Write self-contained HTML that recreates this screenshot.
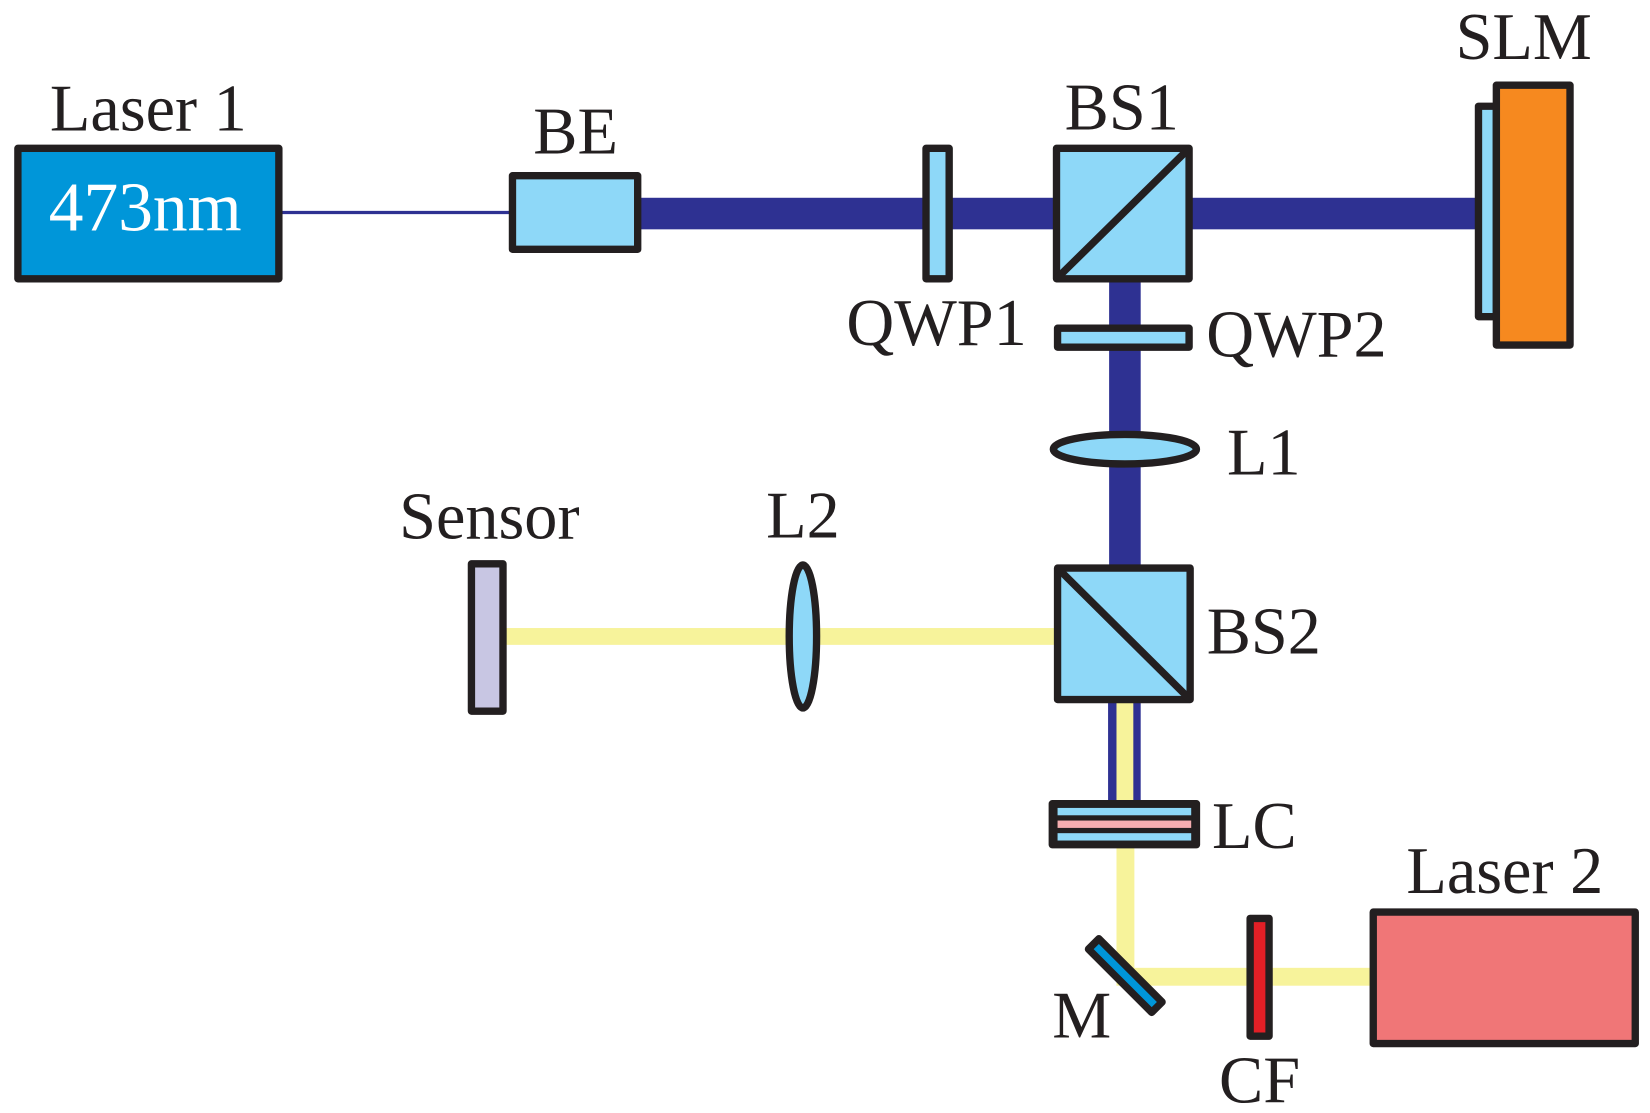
<!DOCTYPE html>
<html><head><style>html,body{margin:0;padding:0;background:#fff}svg{display:block}</style></head>
<body>
<svg width="1650" height="1113" viewBox="0 0 1568 1058" preserveAspectRatio="none" xmlns="http://www.w3.org/2000/svg">
<g font-family="Liberation Serif, serif" font-size="63" fill="#231f20" text-anchor="middle">
<line x1="265" y1="202" x2="487" y2="202" stroke="#2e3192" stroke-width="3"/>
<rect x="606" y="188" width="800" height="30" fill="#2e3192"/>
<rect x="1054" y="265" width="30" height="275" fill="#2e3192"/>
<rect x="1053" y="665" width="31" height="100" fill="#2e3192"/>
<rect x="1061" y="665" width="16" height="140" fill="#f7f39b"/>
<rect x="1061" y="803" width="17" height="133" fill="#f7f39b"/>
<rect x="1061" y="920" width="245" height="17" fill="#f7f39b"/>
<rect x="478" y="597" width="527" height="16" fill="#f7f39b"/>
<g stroke="#231f20" stroke-width="7" stroke-linejoin="round">
<rect x="17" y="141" width="248" height="124" fill="#0096d9"/>
<rect x="487" y="167" width="119" height="70" fill="#8ed8f8"/>
<rect x="880" y="141" width="22" height="124" fill="#8ed8f8"/>
<rect x="1004" y="141" width="126" height="124" fill="#8ed8f8"/>
<line x1="1130" y1="141" x2="1004" y2="265"/>
<rect x="1405" y="101" width="17" height="200" fill="#8ed8f8"/>
<rect x="1422" y="81" width="70" height="247" fill="#f6891f"/>
<rect x="1005" y="312" width="125" height="18" fill="#8ed8f8"/>
<ellipse cx="1069" cy="427" rx="68" ry="14" fill="#8ed8f8"/>
<rect x="1005" y="540" width="126" height="125" fill="#8ed8f8"/>
<line x1="1005" y1="540" x2="1131" y2="665"/>
<ellipse cx="763" cy="605" rx="13" ry="68" fill="#8ed8f8"/>
<rect x="448" y="536" width="30" height="140" fill="#c8c6e3"/>
<rect x="1000" y="764" width="137" height="39" fill="#231f20"/>
<rect x="1188" y="873" width="18" height="112" fill="#e21f26"/>
<rect x="1305" y="867" width="249" height="125" fill="#f07677"/>
<rect x="1027" y="920" width="85" height="14" fill="#0096d9" transform="rotate(45 1069 927)"/>
</g>
<rect x="1005" y="768" width="127" height="7" fill="#8ed8f8"/>
<rect x="1005" y="780" width="127" height="7" fill="#f6adb0"/>
<rect x="1005" y="792" width="127" height="7" fill="#8ed8f8"/>
<text x="141" y="124">Laser 1</text>
<text x="138" y="219" fill="#fff" font-size="66">473nm</text>
<text x="547" y="146">BE</text>
<text x="1066" y="123">BS1</text>
<text x="1448" y="56">SLM</text>
<text x="890" y="328">QWP1</text>
<text x="1232" y="339">QWP2</text>
<text x="1201" y="451">L1</text>
<text x="465" y="512">Sensor</text>
<text x="763" y="511">L2</text>
<text x="1201" y="621">BS2</text>
<text x="1192" y="806">LC</text>
<text x="1430" y="849">Laser 2</text>
<text x="1028" y="986">M</text>
<text x="1197" y="1048">CF</text>
</g>
</svg>
</body></html>
